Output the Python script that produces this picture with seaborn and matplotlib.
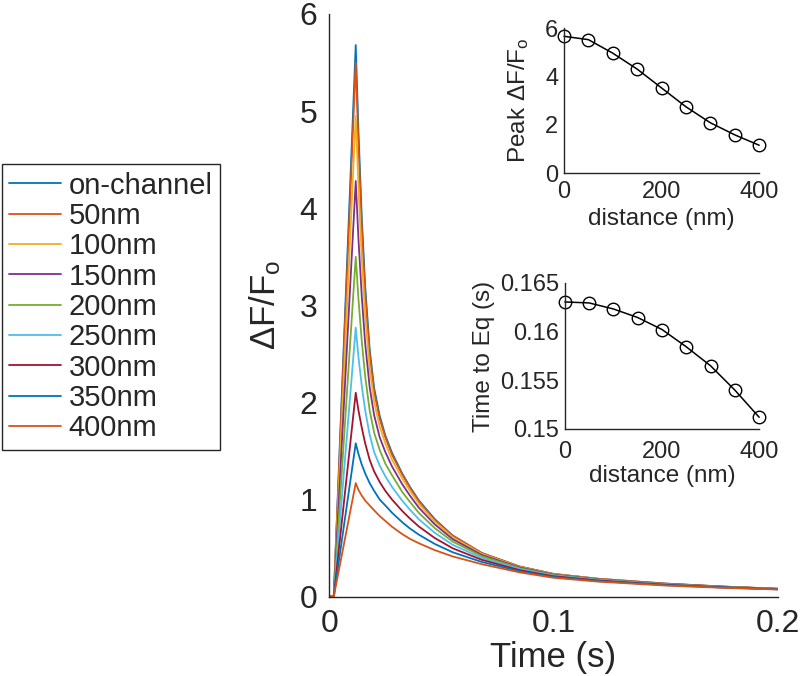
import numpy as np
import pandas as pd
import seaborn as sns
import matplotlib
matplotlib.use("Agg")
import matplotlib.pyplot as plt
from matplotlib.ticker import FuncFormatter

sns.set_style("white")
plt.rcParams['font.family'] = ['Liberation Sans', 'DejaVu Sans']
plt.rcParams['mathtext.fontset'] = 'custom'
plt.rcParams['mathtext.rm'] = 'Liberation Sans'
plt.rcParams['mathtext.it'] = 'Liberation Sans:italic'

INK = '#262626'

# time axis (s) and dF/Fo traces
time_s = [0, 0.002, 0.0118, 0.013, 0.0145, 0.016, 0.018, 0.020, 0.0225, 0.025, 0.028,
          0.0325, 0.036, 0.040, 0.047, 0.055, 0.068, 0.085, 0.100, 0.120, 0.150, 0.175, 0.200]

on_channel = [0, 0, 5.68, 4.80, 3.90, 3.20, 2.55, 2.15, 1.86, 1.66, 1.48,
              1.27, 1.13, 0.99, 0.80, 0.63, 0.45, 0.31, 0.235, 0.185, 0.135, 0.105, 0.082]
nm50 = [0, 0, 5.50, 4.66, 3.80, 3.12, 2.50, 2.11, 1.83, 1.64, 1.46,
        1.26, 1.12, 0.98, 0.79, 0.63, 0.45, 0.31, 0.234, 0.184, 0.135, 0.105, 0.082]
nm100 = [0, 0, 4.95, 4.23, 3.48, 2.90, 2.35, 2.01, 1.75, 1.58, 1.41,
         1.22, 1.09, 0.955, 0.774, 0.613, 0.441, 0.305, 0.232, 0.183, 0.133, 0.104, 0.081]
nm150 = [0, 0, 4.28, 3.69, 3.09, 2.61, 2.16, 1.87, 1.64, 1.49, 1.34,
         1.16, 1.04, 0.915, 0.746, 0.593, 0.430, 0.300, 0.228, 0.180, 0.132, 0.103, 0.081]
nm200 = [0, 0, 3.50, 3.07, 2.63, 2.27, 1.92, 1.69, 1.51, 1.37, 1.25,
         1.08, 0.975, 0.862, 0.707, 0.568, 0.417, 0.293, 0.223, 0.176, 0.129, 0.101, 0.080]
nm250 = [0, 0, 2.77, 2.47, 2.17, 1.92, 1.67, 1.49, 1.35, 1.24, 1.13,
         0.99, 0.895, 0.796, 0.659, 0.535, 0.399, 0.284, 0.217, 0.172, 0.126, 0.099, 0.078]
nm300 = [0, 0, 2.10, 1.92, 1.74, 1.58, 1.41, 1.29, 1.18, 1.09, 1.00,
         0.884, 0.804, 0.722, 0.605, 0.499, 0.380, 0.273, 0.211, 0.167, 0.123, 0.097, 0.077]
nm350 = [0, 0, 1.58, 1.47, 1.36, 1.27, 1.17, 1.09, 1.00, 0.94, 0.864,
         0.768, 0.702, 0.638, 0.544, 0.458, 0.358, 0.262, 0.203, 0.161, 0.119, 0.095, 0.076]
nm400 = [0, 0, 1.17, 1.10, 1.04, 0.99, 0.94, 0.89, 0.83, 0.78, 0.72,
         0.645, 0.595, 0.55, 0.48, 0.415, 0.335, 0.25, 0.195, 0.155, 0.115, 0.092, 0.074]

labels = ['on-channel', '50nm', '100nm', '150nm', '200nm', '250nm', '300nm', '350nm', '400nm']
colors = ['#0072BD', '#D95319', '#EDB120', '#7E2F8E', '#77AC30',
          '#4DBEEE', '#A2142F', '#0072BD', '#D95319']

# inset data
distance_nm = [0, 50, 100, 150, 200, 250, 300, 350, 400]
peak_dff = [5.66, 5.52, 4.96, 4.30, 3.52, 2.74, 2.08, 1.58, 1.15]
time_to_eq = [0.16305, 0.16295, 0.16233, 0.16145, 0.16022, 0.15844, 0.15649, 0.15399, 0.1512]

traces = [on_channel, nm50, nm100, nm150, nm200, nm250, nm300, nm350, nm400]
df = pd.concat([pd.DataFrame({'time': time_s, 'dff': tr, 'trace': lab})
                for tr, lab in zip(traces, labels)], ignore_index=True)

fig = plt.figure(figsize=(8, 6.76), dpi=100)

ax = fig.add_axes([0.4116, 0.1173, 0.5605, 0.862])
sns.lineplot(data=df, x='time', y='dff', hue='trace', hue_order=labels,
             palette=colors, estimator=None, linewidth=1.3, legend=False, ax=ax)
ax.set_xlim(0, 0.2)
ax.set_ylim(0, 6)
ax.set_xticks([0, 0.1, 0.2])
ax.set_xticklabels(['0', '0.1', '0.2'])
ax.set_yticks(range(7))
ax.tick_params(direction='in', length=5, width=1, labelsize=23, colors=INK)
ax.tick_params(axis='x', pad=8.5)
ax.tick_params(axis='y', pad=8.5)
ax.set_xlabel('Time (s)', fontsize=25, color=INK, labelpad=1.5)
ax.set_ylabel(r'$\mathrm{\Delta F/F_o}$', fontsize=25, color=INK, labelpad=12)
sns.despine(ax=ax)
for s in ['left', 'bottom']:
    ax.spines[s].set_color(INK)
    ax.spines[s].set_linewidth(1)

handles = ax.get_lines()[:len(labels)]
leg = fig.legend(handles, labels, loc='upper left', bbox_to_anchor=(0.002, 0.757),
                 borderaxespad=0, fontsize=21, handlelength=1.8, handletextpad=0.25,
                 labelspacing=0.08, fancybox=False, framealpha=1, edgecolor=INK,
                 borderpad=0.25)
leg.get_frame().set_linewidth(1)

ax1 = fig.add_axes([0.705, 0.744, 0.244, 0.2145])
sns.lineplot(x=distance_nm, y=peak_dff, color='black', marker='o', markersize=9,
             markerfacecolor='none', markeredgecolor='black', markeredgewidth=1,
             linewidth=1.1, clip_on=False, ax=ax1)
ax1.set_xlim(0, 400)
ax1.set_ylim(0, 6)
ax1.set_xticks([0, 200, 400])
ax1.set_yticks([0, 2, 4, 6])
ax1.set_xlabel('distance (nm)', fontsize=17.5, color=INK, labelpad=3)
ax1.set_ylabel(r'Peak $\mathrm{\Delta F/F_o}$', fontsize=17.5, color=INK, labelpad=10)

ax2 = fig.add_axes([0.706, 0.3654, 0.243, 0.216])
sns.lineplot(x=distance_nm, y=time_to_eq, color='black', marker='o', markersize=9,
             markerfacecolor='none', markeredgecolor='black', markeredgewidth=1,
             linewidth=1.1, clip_on=False, ax=ax2)
ax2.set_xlim(0, 400)
ax2.set_ylim(0.15, 0.165)
ax2.set_xticks([0, 200, 400])
ax2.set_yticks([0.15, 0.155, 0.16, 0.165])
ax2.yaxis.set_major_formatter(FuncFormatter(lambda v, p: '%g' % v))
ax2.set_xlabel('distance (nm)', fontsize=17.5, color=INK, labelpad=1)
ax2.set_ylabel('Time to Eq (s)', fontsize=17.5, color=INK, labelpad=4)

for a, xpad in [(ax1, 6), (ax2, 9)]:
    a.tick_params(direction='in', length=3.5, width=1, labelsize=17, colors=INK)
    a.tick_params(axis='x', pad=xpad)
    a.tick_params(axis='y', pad=4)
    sns.despine(ax=a)
    for s in ['left', 'bottom']:
        a.spines[s].set_color(INK)
        a.spines[s].set_linewidth(1)

fig.savefig('out.png', dpi=100)
